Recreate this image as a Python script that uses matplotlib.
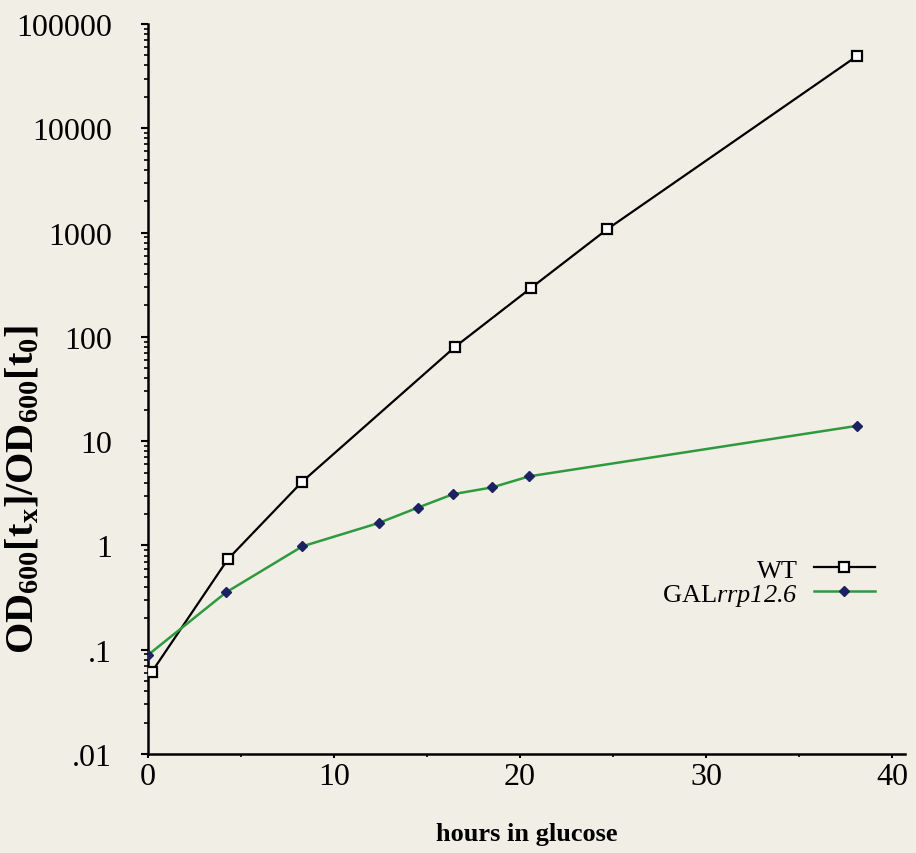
import matplotlib
matplotlib.use("Agg")
import matplotlib.pyplot as plt
from matplotlib.ticker import LogLocator, FixedLocator, NullFormatter, MultipleLocator

# ---- data ----
wt_hours = [0.2, 4.3, 8.3, 16.5, 20.6, 24.7, 38.1]
wt_od = [0.061, 0.74, 4.1, 80, 295, 1080, 49000]
gal_hours = [0.0, 4.2, 8.3, 12.4, 14.5, 16.4, 18.5, 20.5, 38.1]
gal_od = [0.089, 0.355, 0.98, 1.64, 2.3, 3.1, 3.6, 4.6, 14.0]
y_ticks = [0.01, 0.1, 1, 10, 100, 1000, 10000, 100000]
y_ticklabels = [".01", ".1", "1", "10", "100", "1000", "10000", "100000"]
x_ticks = [0, 10, 20, 30, 40]

BG = "#f1eee5"
GREEN = "#2e9a3e"
NAVY = "#1c2160"

plt.rcParams["font.family"] = ["Liberation Serif", "DejaVu Serif"]
plt.rcParams["mathtext.fontset"] = "custom"
plt.rcParams["mathtext.rm"] = "Liberation Serif:italic"
plt.rcParams["mathtext.it"] = "Liberation Serif:italic"
plt.rcParams["mathtext.bf"] = "Liberation Serif:bold"

fig = plt.figure(figsize=(9.16, 8.54), dpi=100, facecolor=BG)
ax = fig.add_axes([148 / 916, 1 - 755 / 854, (905 - 148) / 916, (755 - 25) / 854])
ax.set_facecolor(BG)

ax.plot(wt_hours, wt_od, color="black", lw=1.6, marker="s", ms=7,
        mfc="white", mec="black", mew=1.6, label="WT", zorder=3)
ax.plot(gal_hours, gal_od, color=GREEN, lw=1.8, marker="D", ms=5,
        mfc=NAVY, mec=NAVY, label=r"GAL$rrp12.6$", zorder=3)

ax.set_yscale("log")
ax.set_ylim(0.01, 100000)
ax.set_xlim(0, 40.7)

ax.yaxis.set_major_locator(FixedLocator(y_ticks))
ax.set_yticklabels(y_ticklabels)
ax.yaxis.set_minor_locator(LogLocator(base=10, subs=range(2, 10), numticks=20))
ax.yaxis.set_minor_formatter(NullFormatter())
ax.xaxis.set_major_locator(FixedLocator(x_ticks))
ax.xaxis.set_minor_locator(MultipleLocator(5))

for side in ["top", "right"]:
    ax.spines[side].set_visible(False)
for side in ["left", "bottom"]:
    ax.spines[side].set_linewidth(1.8)

ax.tick_params(axis="y", which="major", direction="out", length=5, width=1.5,
               labelsize=23, pad=21)
ax.tick_params(axis="y", which="minor", direction="out", length=3, width=1.2)
ax.tick_params(axis="x", which="major", direction="out", length=3, width=1.5,
               labelsize=23, pad=3)
ax.tick_params(axis="x", which="minor", direction="out", length=2, width=1.2)

ax.set_xlabel("hours in glucose", fontsize=19, fontweight="bold", labelpad=22)
ax.set_ylabel(r"$\mathbf{OD_{600}[t_x]/OD_{600}[t_0]}$", fontsize=29)
ax.yaxis.set_label_coords((42 - 148) / 757, (755 - 489) / 730)

leg = ax.legend(loc="upper right", bbox_to_anchor=(888 / 916, 1 - 546 / 854),
                bbox_transform=fig.transFigure, frameon=False, markerfirst=False,
                fontsize=19, handlelength=2.3, handletextpad=0.6,
                labelspacing=0.0, borderpad=0)
for t in leg.get_texts():
    t.set_ha("right")

fig.savefig("out.png", dpi=100, facecolor=BG)
